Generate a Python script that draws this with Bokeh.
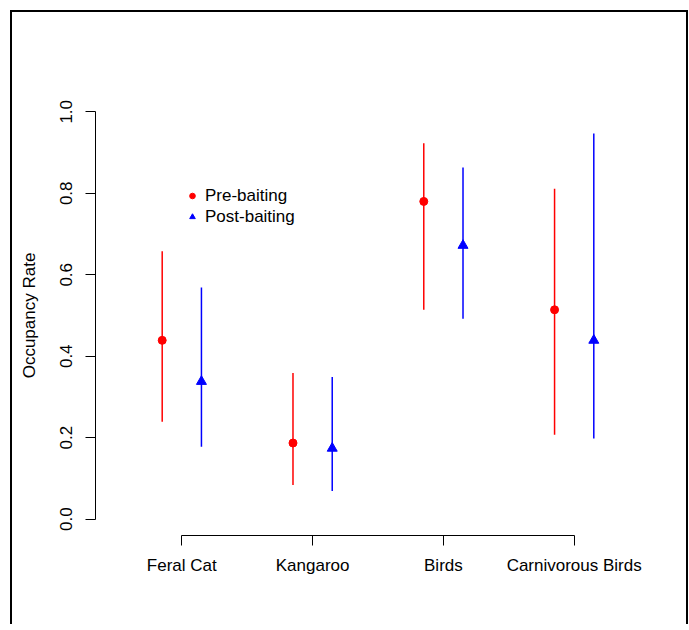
from bokeh.plotting import figure
from bokeh.models import (ColumnDataSource, FixedTicker, PrintfTickFormatter,
                          Legend, LegendItem, LinearAxis, Range1d)
from bokeh.embed import file_html
from bokeh.resources import INLINE

# ---- data ----
categories = ["Feral Cat", "Kangaroo", "Birds", "Carnivorous Birds"]
pre_mean = [0.439, 0.187, 0.780, 0.514]
pre_lower = [0.239, 0.084, 0.514, 0.207]
pre_upper = [0.658, 0.359, 0.923, 0.811]
post_mean = [0.338, 0.174, 0.672, 0.439]
post_lower = [0.178, 0.069, 0.492, 0.198]
post_upper = [0.569, 0.349, 0.863, 0.947]
y_ticks = [0.0, 0.2, 0.4, 0.6, 0.8, 1.0]

offset = 0.15
pos = [i + 1 for i in range(len(categories))]
pre_src = ColumnDataSource(dict(x=[p - offset for p in pos], m=pre_mean, lo=pre_lower, hi=pre_upper))
post_src = ColumnDataSource(dict(x=[p + offset for p in pos], m=post_mean, lo=post_lower, hi=post_upper))

FONT = "Liberation Sans"
FS = "17px"

p = figure(width=674, height=612, output_backend="svg", toolbar_location=None,
           x_range=Range1d(0.34, 4.66), y_range=Range1d(-0.04, 1.04),
           x_axis_type=None, y_axis_type=None,
           min_border_left=83, min_border_right=30, min_border_top=83, min_border_bottom=91)
p.outline_line_color = None
p.xgrid.visible = False
p.ygrid.visible = False
p.background_fill_color = None
p.border_fill_color = None
# outer frame of the picture (open at the bottom, as in the reference)
p.styles = {"box-sizing": "content-box", "margin-left": "10px", "margin-top": "10px",
            "border-left": "2px solid black", "border-top": "2px solid black",
            "border-right": "2px solid black"}

# axes
yax = LinearAxis(ticker=FixedTicker(ticks=y_ticks), formatter=PrintfTickFormatter(format="%.1f"),
                 bounds=(0, 1), axis_label="Occupancy Rate")
xax = LinearAxis(ticker=FixedTicker(ticks=pos), bounds=(1, 4),
                 major_label_overrides={p_: c for p_, c in zip(pos, categories)})
for ax in (yax, xax):
    ax.axis_line_color = "black"
    ax.major_tick_line_color = "black"
    ax.major_tick_in = 0
    ax.major_tick_out = 10
    ax.minor_tick_line_color = None
    ax.major_label_text_font = FONT
    ax.major_label_text_font_size = FS
    ax.major_label_text_color = "black"
    ax.axis_label_text_font = FONT
    ax.axis_label_text_font_size = FS
    ax.axis_label_text_font_style = "normal"
    ax.axis_label_text_color = "black"
yax.major_label_orientation = "vertical"
yax.major_label_standoff = 13
yax.axis_label_standoff = 19
xax.major_label_standoff = 10
p.add_layout(yax, "left")
p.add_layout(xax, "below")

# error bars
p.segment(x0="x", y0="lo", x1="x", y1="hi", source=pre_src, line_color="#FF0000", line_width=1.5)
p.segment(x0="x", y0="lo", x1="x", y1="hi", source=post_src, line_color="#0000FF", line_width=1.5)
r_pre = p.scatter(x="x", y="m", source=pre_src, marker="circle", size=8,
                  fill_color="#FF0000", line_color="#FF0000")
r_post = p.scatter(x="x", y="m", source=post_src, marker="triangle", size=10,
                   fill_color="#0000FF", line_color="#0000FF")

legend = Legend(items=[LegendItem(label="Pre-baiting", renderers=[r_pre]),
                       LegendItem(label="Post-baiting", renderers=[r_post])],
                location=(90, 308), padding=0, margin=0, spacing=0,
                glyph_width=14, glyph_height=21, label_height=21, label_standoff=6,
                label_text_font=FONT, label_text_font_size=FS, label_text_color="black",
                border_line_alpha=0, background_fill_alpha=0)
p.add_layout(legend, "center")

open("out.html", "w").write(file_html(p, INLINE))
